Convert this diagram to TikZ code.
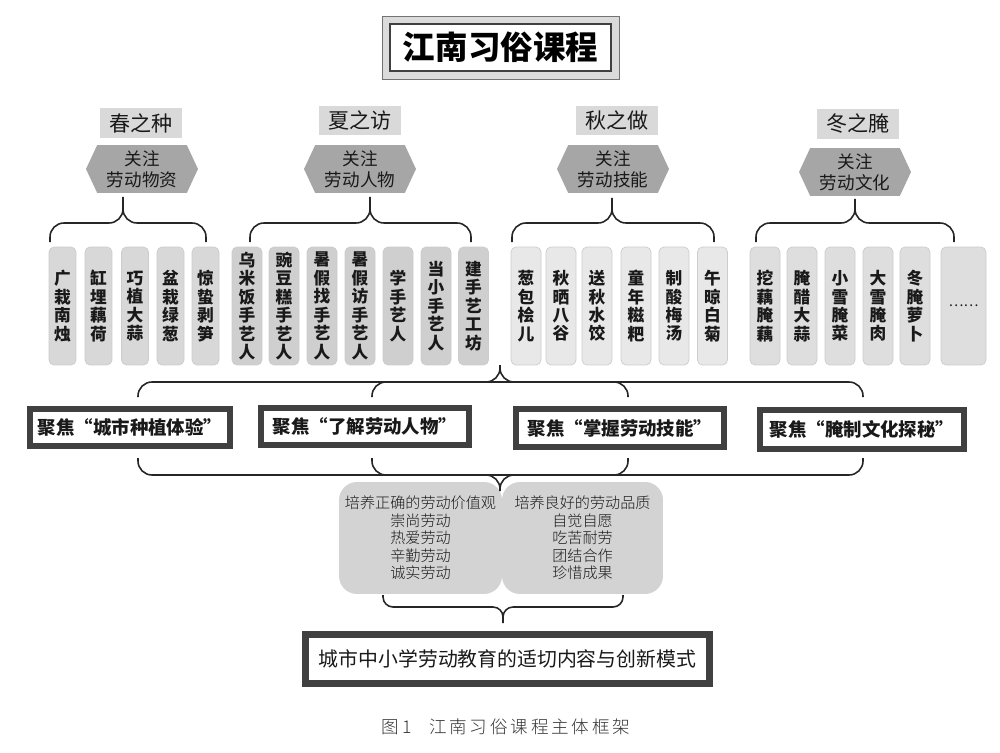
\documentclass[tikz,border=0pt]{standalone}
\usepackage{fontspec}
\setmainfont{Noto Sans CJK SC}
\newfontfamily\titlefont{Noto Sans CJK SC Black}
\newfontfamily\lightfont{Noto Sans CJK SC Light}
\newfontfamily\capfont[LetterSpace=16]{Noto Sans CJK SC Light}
\usepackage{tikz}
\usetikzlibrary{shapes.symbols, positioning}
\definecolor{txtdark}{RGB}{25,25,25}
\definecolor{lblgray}{RGB}{217,217,217}
\definecolor{hexgray}{RGB}{166,166,166}
\definecolor{sprgray}{RGB}{216,216,216}
\definecolor{sumgray}{RGB}{207,207,207}
\definecolor{autgray}{RGB}{232,232,232}
\definecolor{wingray}{RGB}{222,222,222}
\definecolor{framedark}{RGB}{64,64,64}
\definecolor{panelgray}{RGB}{211,211,211}
\tikzset{
  season/.style={rectangle, fill=lblgray, minimum width=1.64cm, minimum height=0.6cm, inner sep=0pt, font=\fontsize{12}{14}\selectfont, text=txtdark},
  hexa/.style={signal, signal to=east and west, signal pointer angle=130, fill=hexgray, minimum width=2.24cm, minimum height=0.96cm, inner sep=0pt, align=center, font=\fontsize{10}{12}\selectfont, text=txtdark},
  vcell/.style={rectangle, rounded corners=0.1cm, draw=black!20, minimum width=0.6cm, minimum height=2.36cm, inner sep=0pt, align=center, font=\bfseries\fontsize{9.5}{10.5}\selectfont, text=txtdark},
  focus/.style={rectangle, draw=framedark, line width=0.12cm, fill=white, minimum height=0.74cm, inner sep=0pt, font=\bfseries\fontsize{10.5}{12}\selectfont, text=txtdark},
  panel/.style={rectangle, rounded corners=0.36cm, fill=panelgray, minimum width=3.24cm, minimum height=2.24cm, inner sep=0pt, align=center, font=\lightfont\fontsize{8.6}{10}\selectfont, text=txtdark},
  brc/.style={line width=0.9pt, color=black!85, rounded corners=0.28cm}
}

\begin{document}
\begin{tikzpicture}[x=0.02cm, y=-0.02cm]
  \useasboundingbox (0,0) rectangle (1000,753);

  % Title
  \draw[draw=black!55, fill=black!14, line width=0.5pt] (382,16) rectangle (619,79);
  \node[rectangle, draw=framedark, line width=1.2pt, fill=white, minimum width=4.42cm, minimum height=0.94cm, font=\titlefont\fontsize{18.5}{20}\selectfont] (title) at (500.5,47.5) {江南习俗课程};

  % Seasons
  \node[season] (sprlbl) at (141,123) {春之种};
  \node[season] (sumlbl) at (360,120.5) {夏之访};
  \node[season] (autlbl) at (617,120.5) {秋之做};
  \node[season] (winlbl) at (858,124) {冬之腌};

  \node[hexa] (sprhex) at (142,169) {关注\\劳动物资};
  \node[hexa] (sumhex) at (360,169) {关注\\劳动人物};
  \node[hexa] (authex) at (613,169) {关注\\劳动技能};
  \node[hexa] (winhex) at (855,172) {关注\\劳动文化};

  % Activities
  \foreach \x/\t [count=\i] in {62.5/{广\\栽\\南\\烛}, 98.5/{缸\\埋\\藕\\荷}, 135/{巧\\植\\大\\蒜}, 170.5/{盆\\栽\\绿\\葱}, 205.5/{惊\\蛰\\剥\\笋}}
    \node[vcell, fill=sprgray, minimum width=0.54cm] (spr\i) at (\x,306) {\t};
  \foreach \x/\t [count=\i] in {247/{乌\\米\\饭\\手\\艺\\人}, 284/{豌\\豆\\糕\\手\\艺\\人}, 322/{暑\\假\\找\\手\\艺\\人}, 360/{暑\\假\\访\\手\\艺\\人}, 398/{学\\手\\艺\\人}, 436/{当\\小\\手\\艺\\人}, 473.5/{建\\手\\艺\\工\\坊}}
    \node[vcell, fill=sumgray] (sum\i) at (\x,306) {\t};
  \foreach \x/\t [count=\i] in {526/{葱\\包\\桧\\儿}, 561/{秋\\晒\\八\\谷}, 597/{送\\秋\\水\\饺}, 636/{童\\年\\糍\\粑}, 674/{制\\酸\\梅\\汤}, 712.5/{午\\晾\\白\\菊}}
    \node[vcell, fill=autgray] (aut\i) at (\x,306) {\t};
  \foreach \x/\t [count=\i] in {765/{挖\\藕\\腌\\藕}, 802/{腌\\醋\\大\\蒜}, 840/{小\\雪\\腌\\菜}, 878/{大\\雪\\腌\\肉}, 915/{冬\\腌\\萝\\卜}}
    \node[vcell, fill=wingray] (win\i) at (\x,306) {\t};
  \node[vcell, fill=wingray, minimum width=0.9cm, font=\fontsize{8}{10}\selectfont] (win6) at (963.5,306) {……};

  % Focus
  \node[focus, minimum width=4.0cm] (fspr) at (130,427.5) {聚焦“城市种植体验”};
  \node[focus, minimum width=4.16cm] (fsum) at (365,426.5) {聚焦“了解劳动人物”};
  \node[focus, minimum width=4.16cm, minimum height=0.76cm] (faut) at (620,428) {聚焦“掌握劳动技能”};
  \node[focus, minimum width=4.08cm, minimum height=0.78cm] (fwin) at (862,429.5) {聚焦“腌制文化探秘”};

  % Values
  \node[panel, minimum width=3.26cm] (val) at (420.5,538) {培养正确的劳动价值观\\崇尚劳动\\热爱劳动\\辛勤劳动\\诚实劳动};
  \node[panel, minimum width=3.22cm] (qual) at (582.5,538) {培养良好的劳动品质\\自觉自愿\\吃苦耐劳\\团结合作\\珍惜成果};

  \node[rectangle, draw=framedark, line width=0.14cm, fill=white, minimum width=8.08cm, minimum height=0.98cm, inner sep=0pt, font=\fontsize{11.3}{13}\selectfont, text=txtdark] (goal) at (507.5,659) {城市中小学劳动教育的适切内容与创新模式};

  \node[font=\capfont\fontsize{10}{12}\selectfont, text=black!80] (cap) at (506,727) {图1\quad 江南习俗课程主体框架};

  % Braces
  \draw[brc] (50,242) |- (123,223) -- (123,197) (123,197) -- (123,223) -| (206,242);
  \draw[brc] (250,242) |- (370,223) -- (370,197) (370,197) -- (370,223) -| (471,242);
  \draw[brc] (512,242) |- (612,223) -- (612,198) (612,198) -- (612,223) -| (714,242);
  \draw[brc] (756,242) |- (855,223) -- (855,199) (855,199) -- (855,223) -| (954,242);

  \draw[brc] (138,397) |- (500,382) -- (500,365) (500,365) -- (500,382) -| (863,397);
  \draw[brc] (372,397) |- (500,382) (500,382) -| (628,397);
  \draw[brc] (138,458) |- (500,475) -- (500,491) (500,491) -- (500,475) -| (863,458);
  \draw[brc] (372,458) |- (500,475) (500,475) -| (628,458);

  \draw[brc, rounded corners=0.2cm] (383,595) |- (503,607) -- (503,623) (503,623) -- (503,607) -| (623,595);
\end{tikzpicture}
\end{document}
